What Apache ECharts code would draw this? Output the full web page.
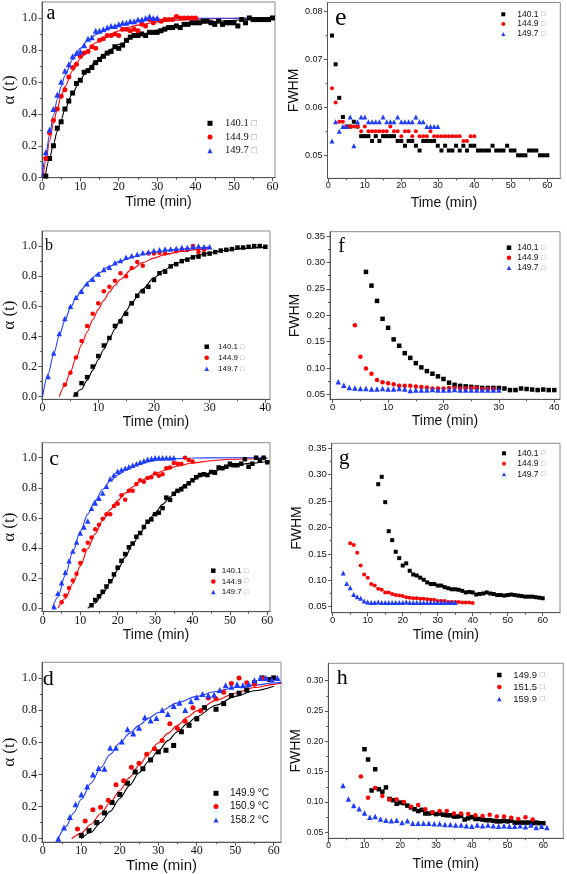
<!DOCTYPE html>
<html><head><meta charset="utf-8">
<script src="https://cdn.jsdelivr.net/npm/echarts@6/dist/echarts.min.js"></script>
<style>html,body{margin:0;padding:0;background:#fff}#c{width:567px;height:874px}</style>
</head><body><div id="c"></div>
<script>
function seq(a, b, s) { const r = []; for (let v = a; v <= b + 1e-9; v += s) r.push(+v.toFixed(2)); return r; }

// ---------- Panel a : α(t) ----------
const a_t140 = seq(1, 60, 1);
const a_y140 = [0.01,0.12,0.20,0.31,0.35,0.43,0.48,0.53,0.59,0.61, 0.66,0.67,0.69,0.72,0.74,0.76,0.78,0.79,0.82,0.81,
  0.83,0.86,0.88,0.89,0.89,0.90,0.89,0.91,0.91,0.91, 0.92,0.93,0.94,0.94,0.95,0.94,0.96,0.96,0.97,0.97,
  0.97,0.98,0.98,0.97,0.96,0.98,0.96,0.97,0.97,0.97, 0.95,0.99,0.97,1.0,0.99,0.99,0.99,0.99,0.99,1.0];
const a_t144 = seq(1, 40, 1);
const a_y144 = [0.12,0.28,0.36,0.43,0.51,0.55,0.63,0.69,0.71,0.76, 0.78,0.79,0.82,0.81,0.86,0.87,0.89,0.89,0.90,0.89,
  0.93,0.93,0.92,0.93,0.92,0.96,0.95,0.99,0.97,0.99, 0.98,0.99,0.99,0.99,1.01,1.0,1.0,1.0,1.0,1.0];
const a_t149 = seq(1, 30, 1);
const a_y149 = [0.16,0.30,0.43,0.52,0.60,0.67,0.71,0.76,0.78,0.79, 0.83,0.87,0.88,0.92,0.92,0.93,0.94,0.95,0.95,0.96,
  0.97,0.97,0.98,0.98,0.99,0.99,1.0,1.01,1.0,1.0];
const a_fit140 = [[0.8,0],[2,0.12],[3,0.21],[4,0.29],[5,0.36],[6,0.43],[8,0.53],[10,0.615],[12,0.68],[14,0.73],[16,0.77],[18,0.805],[20,0.835],[25,0.89],[30,0.925],[35,0.95],[40,0.965],[45,0.978],[50,0.986],[55,0.992],[60,0.996]];
const a_fit144 = [[0.3,0],[1,0.10],[2,0.23],[3,0.34],[4,0.43],[5,0.51],[6,0.57],[8,0.67],[10,0.745],[12,0.80],[14,0.845],[16,0.875],[18,0.90],[20,0.92],[25,0.955],[30,0.975],[35,0.986],[40,0.992],[50,0.998],[60,1.0]];
const a_fit149 = [[0,0],[1,0.14],[2,0.27],[3,0.39],[4,0.49],[5,0.57],[6,0.64],[8,0.74],[10,0.81],[12,0.86],[14,0.895],[16,0.92],[18,0.94],[20,0.955],[25,0.978],[30,0.99],[40,0.998],[60,1.0]];

// ---------- Panel e : FWHM ----------
const e_t140 = seq(1, 60, 1);
const e_y140 = [0.075,0.069,0.062,0.058,0.056,0.056,0.057,0.056,0.054,0.054, 0.054,0.053,0.054,0.053,0.054,0.054,0.054,0.054,0.053,0.053,
  0.052,0.053,0.053,0.052,0.051,0.053,0.053,0.053,0.053,0.052, 0.051,0.052,0.051,0.051,0.052,0.051,0.052,0.051,0.052,0.052,
  0.051,0.051,0.051,0.051,0.052,0.051,0.051,0.051,0.052,0.051, 0.051,0.050,0.050,0.050,0.051,0.051,0.051,0.050,0.050,0.050];
const e_t144 = seq(1, 40, 1);
const e_y144 = [0.064,0.061,0.057,0.057,0.056,0.056,0.056,0.056,0.055,0.056, 0.055,0.055,0.055,0.055,0.055,0.055,0.056,0.055,0.055,0.054,
  0.055,0.055,0.054,0.055,0.054,0.054,0.054,0.055,0.054,0.054, 0.054,0.054,0.054,0.054,0.054,0.054,0.053,0.053,0.054,0.054];
const e_t149 = seq(1, 30, 1);
const e_y149 = [0.053,0.057,0.055,0.056,0.056,0.058,0.052,0.057,0.058,0.058, 0.057,0.057,0.057,0.057,0.058,0.057,0.057,0.057,0.058,0.057,
  0.057,0.057,0.057,0.058,0.057,0.057,0.056,0.056,0.056,0.056];

// ---------- Panel b : α(t) ----------
const b_t140 = seq(6, 40, 1);
const b_y140 = [0.015,0.09,0.13,0.20,0.27,0.34,0.39,0.47,0.50,0.55, 0.62,0.67,0.70,0.73,0.775,0.82,0.83,0.865,0.88,0.90,
  0.91,0.925,0.93,0.945,0.95,0.96,0.97,0.975,0.98,0.99, 0.99,0.995,1.0,1.0,0.995];
const b_t144 = [4,5,6,7,8,9,10,11,12,13,14,15,16,17,18,19,20,21,22,24,25,26,27,28,29];
const b_y144 = [0.08,0.16,0.26,0.37,0.47,0.55,0.62,0.70,0.73,0.77,0.82,0.80,0.855,0.895,0.87,0.95,0.95,0.955,0.95,0.965,0.975,0.975,1.0,0.96,0.975];
const b_t149 = seq(1, 30, 1);
const b_y149 = [0.135,0.29,0.42,0.52,0.60,0.66,0.70,0.75,0.78,0.815, 0.845,0.86,0.89,0.905,0.925,0.935,0.945,0.955,0.96,0.97,
  0.975,0.98,0.98,0.985,0.99,0.99,0.995,1.0,0.995,0.995];
const b_fit140 = [[5.5,0],[7,0.05],[8,0.11],[9,0.175],[10,0.245],[11,0.315],[12,0.385],[13,0.45],[14,0.515],[15,0.57],[16,0.625],[18,0.715],[20,0.79],[22,0.845],[24,0.885],[26,0.915],[28,0.94],[30,0.955],[33,0.972],[36,0.985],[40,0.993]];
const b_fit144 = [[3,0],[4,0.075],[5,0.165],[6,0.255],[7,0.345],[8,0.43],[9,0.51],[10,0.58],[11,0.64],[12,0.695],[13,0.74],[14,0.78],[16,0.845],[18,0.89],[20,0.92],[22,0.945],[25,0.965],[28,0.978],[30,0.983]];
const b_fit149 = [[0,0],[1,0.15],[2,0.285],[3,0.405],[4,0.505],[5,0.59],[6,0.655],[7,0.71],[8,0.755],[9,0.79],[10,0.82],[12,0.865],[14,0.9],[16,0.925],[18,0.945],[20,0.96],[24,0.978],[27,0.987],[30,0.993]];

// ---------- Panel f : FWHM ----------
const f_t140 = seq(6, 40, 1);
const f_y140 = [0.282,0.256,0.227,0.193,0.176,0.154,0.142,0.128,0.119,0.109, 0.101,0.094,0.089,0.084,0.079,0.072,0.068,0.066,0.065,0.064,
  0.063,0.062,0.062,0.062,0.062,0.061,0.058,0.058,0.061,0.060, 0.059,0.058,0.059,0.058,0.058];
const f_t144 = seq(4, 29, 1);
const f_y144 = [0.181,0.121,0.099,0.089,0.077,0.073,0.071,0.069,0.066,0.066, 0.066,0.065,0.064,0.063,0.061,0.061,0.061,0.062,0.062,0.061,
  0.061,0.062,0.062,0.060,0.060,0.060];
const f_t149 = seq(1, 30, 1);
const f_y149 = [0.074,0.067,0.063,0.062,0.061,0.061,0.060,0.060,0.061,0.060, 0.060,0.061,0.060,0.057,0.058,0.058,0.058,0.059,0.058,0.058,
  0.058,0.059,0.058,0.058,0.058,0.058,0.058,0.058,0.058,0.058];

// ---------- Panel c : α(t) ----------
const c_t140 = seq(13, 60, 1);
const c_y140 = [0.02,0.055,0.08,0.11,0.145,0.18,0.225,0.27,0.315,0.36, 0.405,0.43,0.475,0.50,0.54,0.575,0.59,0.625,0.635,0.665,
  0.735,0.72,0.76,0.78,0.79,0.81,0.83,0.85,0.87,0.885, 0.89,0.885,0.905,0.90,0.935,0.93,0.94,0.96,0.95,0.95,
  0.96,0.99,0.94,0.96,1.0,0.98,1.0,0.97];
const c_t144 = seq(5, 40, 1);
const c_y144 = [0.04,0.085,0.135,0.185,0.23,0.30,0.385,0.435,0.47,0.525, 0.555,0.595,0.625,0.625,0.68,0.695,0.75,0.72,0.78,0.78,
  0.825,0.85,0.84,0.865,0.87,0.895,0.88,0.89,0.93,0.935, 0.965,0.96,0.96,1.0,0.985,0.975];
const c_t149 = seq(3, 35, 1);
const c_y149 = [0.01,0.10,0.17,0.24,0.315,0.38,0.44,0.50,0.54,0.58, 0.665,0.70,0.73,0.765,0.81,0.86,0.885,0.91,0.92,0.93,
  0.94,0.95,0.96,0.97,0.98,0.99,0.995,1.0,1.0,1.0, 1.0,1.0,1.0];
const c_fit140 = [[12,0],[14,0.035],[16,0.095],[18,0.17],[20,0.255],[22,0.34],[24,0.425],[26,0.50],[28,0.57],[30,0.635],[32,0.69],[34,0.74],[36,0.785],[38,0.82],[40,0.85],[43,0.885],[46,0.915],[50,0.94],[55,0.962],[60,0.975]];
const c_fit144 = [[4,0],[6,0.065],[8,0.165],[10,0.28],[12,0.395],[14,0.495],[16,0.585],[18,0.655],[20,0.715],[22,0.765],[24,0.805],[26,0.84],[28,0.87],[30,0.895],[33,0.92],[36,0.945],[40,0.965],[45,0.98],[50,0.99],[60,0.995]];
const c_fit149 = [[2.5,0],[4,0.075],[6,0.22],[8,0.375],[10,0.51],[12,0.625],[14,0.715],[16,0.79],[18,0.845],[20,0.885],[22,0.915],[25,0.95],[28,0.972],[31,0.985],[35,0.993],[40,0.998],[50,1.0],[60,1.0]];

// ---------- Panel g : FWHM ----------
const g_t140 = seq(13, 60, 1);
const g_y140 = [0.282,0.296,0.248,0.193,0.176,0.154,0.142,0.128,0.132,0.118, 0.111,0.109,0.105,0.101,0.096,0.093,0.093,0.090,0.090,0.087,
  0.085,0.083,0.083,0.082,0.080,0.077,0.078,0.077,0.073,0.074, 0.075,0.077,0.075,0.074,0.072,0.072,0.071,0.072,0.073,0.072,
  0.071,0.070,0.069,0.069,0.069,0.068,0.067,0.066];
const g_t144 = seq(5, 40, 1);
const g_y144 = [0.170,0.167,0.152,0.128,0.111,0.105,0.093,0.090,0.084,0.082, 0.077,0.077,0.074,0.072,0.071,0.070,0.068,0.067,0.066,0.066,
  0.065,0.065,0.064,0.063,0.063,0.061,0.061,0.061,0.059,0.059, 0.059,0.059,0.058,0.058,0.058,0.057];
const g_t149 = seq(3, 35, 1);
const g_y149 = [0.114,0.094,0.086,0.073,0.069,0.066,0.061,0.059,0.058,0.058, 0.059,0.058,0.058,0.058,0.058,0.058,0.058,0.058,0.059,0.058,
  0.058,0.058,0.058,0.058,0.058,0.058,0.058,0.058,0.058,0.058, 0.058,0.058,0.058];

// ---------- Panel d : α(t) ----------
const d_t149 = [10,12,14,16,18,20,22,24,26,28,30,32,34,36,38,40,42,45,47,49,51,53,55,57,59,60];
const d_y149 = [0.02,0.05,0.10,0.16,0.225,0.275,0.345,0.415,0.435,0.49,0.54,0.55,0.58,0.665,0.705,0.745,0.815,0.805,0.84,0.89,0.905,0.925,0.97,1.0,0.99,1.0];
const d_t150 = [9,11,13,15,17,19,21,23,25,27,29,31,33,35,37,39,41,43,45,47,49,51,53,55,57];
const d_y150 = [0.06,0.11,0.18,0.195,0.24,0.335,0.36,0.445,0.47,0.525,0.56,0.61,0.715,0.685,0.73,0.815,0.795,0.875,0.87,0.91,0.965,1.0,0.97,0.96,0.995];
const d_t158 = [4,5.5,7,8.5,10,11.5,13,14.5,16,17.5,19,20.5,22,23.5,25,26.5,28,29.5,31,32.5,34,35.5,37,38.5,40,41.5,43,44.5,46,47.5,49,50.5,52,53.5,55,56.5,58,59.5,61];
const d_y158 = [0.0,0.07,0.135,0.215,0.275,0.325,0.40,0.44,0.435,0.565, 0.565,0.605,0.68,0.655,0.69,0.755,0.735,0.75,0.80,0.775,
  0.825,0.845,0.80,0.855,0.88,0.90,0.89,0.895,0.925,0.955, 0.945,0.96,0.955,0.96,0.985,1.0,1.0,0.99,1.0];
const d_fit149 = [[10,0],[12.5,0.04],[15,0.10],[17.5,0.17],[20,0.25],[22.5,0.33],[25,0.41],[27.5,0.48],[30,0.545],[32.5,0.61],[35,0.665],[37.5,0.715],[40,0.76],[45,0.83],[50,0.885],[55,0.92],[60,0.948]];
const d_fit150 = [[7.5,0],[10,0.035],[12.5,0.09],[15,0.155],[17.5,0.225],[20,0.30],[22.5,0.38],[25,0.455],[27.5,0.53],[30,0.595],[32.5,0.655],[35,0.705],[37.5,0.755],[40,0.795],[45,0.86],[50,0.905],[55,0.94],[60,0.96],[62,0.967]];
const d_fit158 = [[4,0],[6,0.075],[8,0.16],[10,0.245],[12.5,0.345],[15,0.44],[17.5,0.525],[20,0.595],[22.5,0.655],[25,0.705],[27.5,0.75],[30,0.785],[35,0.845],[40,0.885],[45,0.915],[50,0.94],[55,0.955],[60,0.968],[62,0.972]];

// ---------- Panel h : FWHM ----------
const h_t149 = seq(10, 60, 1);
const h_y149 = [0.187,0.170,0.119,0.154,0.121,0.117,0.124,0.105,0.103,0.097, 0.099,0.098,0.094,0.091,0.088,0.085,0.087,0.081,0.081,0.082,
  0.080,0.081,0.079,0.078,0.078,0.076,0.076,0.077,0.071,0.073, 0.075,0.072,0.072,0.071,0.070,0.070,0.069,0.068,0.068,0.069,
  0.068,0.069,0.066,0.066,0.066,0.066,0.066,0.065,0.066,0.065,0.065];
const h_t151 = seq(9, 57, 2);
const h_y151 = [0.142,0.107,0.123,0.110,0.104,0.104,0.100,0.092,0.095,0.088,0.083,0.085,0.085,0.081,0.081,0.080,0.078,0.077,0.079,0.076,0.076,0.074,0.072,0.075,0.071];
const h_t159 = seq(4, 61, 1.5);
const h_y159 = [0.127,0.105,0.094,0.089,0.082,0.075,0.076,0.072,0.070,0.069, 0.070,0.066,0.069,0.065,0.065,0.065,0.065,0.064,0.064,0.063,
  0.063,0.062,0.062,0.061,0.060,0.062,0.061,0.062,0.061,0.060, 0.061,0.060,0.060,0.061,0.059,0.062,0.058,0.060,0.058];

// ---------- tick labels ----------
const X60 = [0,10,20,30,40,50,60], X60m = [5,15,25,35,45,55];
const X40 = [0,10,20,30,40], X40m = [5,15,25,35];
const YA = [0,0.2,0.4,0.6,0.8,1.0], YAm = [0.1,0.3,0.5,0.7,0.9];
const YE = [0.05,0.06,0.07,0.08], YEm = [0.055,0.065,0.075];
const YF = [0.05,0.10,0.15,0.20,0.25,0.30,0.35], YFm = [0.075,0.125,0.175,0.225,0.275,0.325];
const YH = [0.05,0.10,0.15,0.20,0.25,0.30], YHm = [0.075,0.125,0.175,0.225,0.275];

const N1 = ['140.1 □','144.9 □','149.7 □'];
const ND = ['149.9 °C','150.9 °C','158.2 °C'];
const NH = ['149.9 □','151.5 □','159.9 □'];

// ---------- styling ----------
const COL = ['#000000','#ff0000','#1e3cff'];
const SYM = ['rect','circle','triangle'];
const SERIF = '"Liberation Serif","Times New Roman",serif';
const SANS = '"Liberation Sans",Arial,sans-serif';
const AX = '#555', BORDER = '#8a8a8a', TXT = '#111';

// legend: mc = marker centre x, tx = text start x, r1 = first row centre y, pitch = row pitch
const panels = [
 {L:'a', box:[37,2,238,175.7], xr:[0,60.67], yr:[0,1.1], xt:X60, xm:X60m, yt:YA, ym:YAm, yd:1,
  tf:SERIF, ts:12, xg:17, xns:14, yn:'α (t)', ynf:SERIF, yns:17, yg:16.5, lx:46.5, ly:14, lfs:20, sym:5,
  leg:{mc:210, tx:225, r1:123.3, pitch:13.7, s:5, fs:10.5, lh:11, ff:SERIF}, names:N1,
  pts:[[a_t140,a_y140],[a_t144,a_y144],[a_t149,a_y149]], fits:[a_fit140,a_fit144,a_fit149]},
 {L:'e', box:[327.5,2.5,232.8,175.8], xr:[-0.22,63.56], yr:[0.0452,0.0819], xt:X60, xm:X60m, yt:YE, ym:YEm, yd:2,
  tf:SANS, ts:9, xg:17.5, xns:14, yn:'FWHM', ynf:SANS, yns:14, yg:26.5, lx:335, ly:17.9, lfs:26, sym:4,
  leg:{mc:503.3, tx:517.3, r1:14.3, pitch:9.8, s:4, fs:8.5, lh:9, ff:SANS}, names:N1,
  pts:[[e_t140,e_y140],[e_t144,e_y144],[e_t149,e_y149]], fits:[]},
 {L:'b', box:[40,231,230,168.3], xr:[-0.12,40.84], yr:[-0.017,1.1], xt:X40, xm:X40m, yt:YA, ym:YAm, yd:1,
  tf:SERIF, ts:12, xg:15, xns:14, yn:'α (t)', ynf:SERIF, yns:17, yg:19, lx:45, ly:245.9, lfs:16, sym:4.5,
  leg:{mc:206.7, tx:218, r1:346.7, pitch:11, s:4.5, fs:8, lh:9, ff:SANS}, names:N1,
  pts:[[b_t140,b_y140],[b_t144,b_y144],[b_t149,b_y149]], fits:[b_fit140,b_fit144,b_fit149]},
 {L:'f', box:[330,231.7,230,167.6], xr:[-0.49,41.03], yr:[0.0405,0.3582], xt:X40, xm:X40m, yt:YF, ym:YFm, yd:2,
  tf:SANS, ts:9.5, xg:15, xns:14, yn:'FWHM', ynf:SANS, yns:14, yg:22.7, lx:338.3, ly:246.6, lfs:20, sym:4.5,
  leg:{mc:509, tx:517.3, r1:247.7, pitch:10, s:4.5, fs:8.5, lh:9, ff:SANS}, names:N1,
  pts:[[f_t140,f_y140],[f_t144,f_y144],[f_t149,f_y149]], fits:[]},
 {L:'c', box:[39.3,442.7,230.7,169], xr:[-0.26,60.72], yr:[-0.0226,1.0996], xt:X60, xm:X60m, yt:YA, ym:YAm, yd:1,
  tf:SERIF, ts:12, xg:16.5, xns:14, yn:'α (t)', ynf:SERIF, yns:17, yg:16.8, lx:49.3, ly:459.3, lfs:22, sym:4.5,
  leg:{mc:213.3, tx:221.7, r1:570.7, pitch:10.7, s:4.5, fs:8, lh:9, ff:SANS}, names:N1,
  pts:[[c_t140,c_y140],[c_t144,c_y144],[c_t149,c_y149]], fits:[c_fit140,c_fit144,c_fit149]},
 {L:'g', box:[331.7,443.3,228.3,169.4], xr:[-0.29,64.94], yr:[0.0386,0.3595], xt:X60, xm:X60m, yt:YF, ym:YFm, yd:2,
  tf:SANS, ts:9.5, xg:15.5, xns:14, yn:'FWHM', ynf:SANS, yns:14, yg:24.7, lx:339, ly:458.9, lfs:21, sym:4,
  leg:{mc:504, tx:517.3, r1:453.3, pitch:10.5, s:4, fs:8.5, lh:9, ff:SANS}, names:N1,
  pts:[[g_t140,g_y140],[g_t144,g_y144],[g_t149,g_y149]], fits:[]},
 {L:'d', box:[32.7,662.3,248.3,180.4], xr:[-0.25,61.9], yr:[-0.021,1.097], xt:X60, xm:X60m, yt:YA, ym:YAm, yd:1,
  tf:SERIF, ts:12, xg:14.5, xns:15, yn:'α (t)', ynf:SERIF, yns:17, yg:13.7, lx:42.7, ly:679.3, lfs:22, sym:5,
  leg:{mc:216, tx:230, r1:793.3, pitch:13.3, s:5, fs:10, lh:11, ff:SANS}, names:ND,
  pts:[[d_t149,d_y149],[d_t150,d_y150],[d_t158,d_y158]], fits:[d_fit149,d_fit150,d_fit158]},
 {L:'h', box:[328.3,663.3,235,175], xr:[-0.11,65.57], yr:[0.0401,0.3287], xt:X60, xm:X60m, yt:YH, ym:YHm, yd:2,
  tf:SANS, ts:8.5, xg:18.5, xns:14, yn:'FWHM', ynf:SANS, yns:14, yg:24.6, lx:336.7, ly:678.6, lfs:22, sym:4.5,
  leg:{mc:499.3, tx:513.3, r1:675, pitch:12, s:4.5, fs:9.5, lh:10, ff:SANS}, names:NH,
  pts:[[h_t149,h_y149],[h_t151,h_y151],[h_t159,h_y159]], fits:[]}
];

const grid = [], xAxis = [], yAxis = [], series = [], legend = [], graphic = [];
panels.forEach((p, i) => {
  grid.push({left:p.box[0], top:p.box[1], width:p.box[2], height:p.box[3], show:true,
    borderColor:BORDER, borderWidth:1, backgroundColor:'transparent', containLabel:false});
  const xi = 2*i, yi = 2*i;
  xAxis.push({gridIndex:i, type:'value', position:'bottom', min:p.xr[0], max:p.xr[1],
    axisLine:{show:true, onZero:false, lineStyle:{color:AX, width:1}},
    axisTick:{show:true, inside:false, length:3.5, customValues:p.xt, lineStyle:{color:AX, width:1}},
    axisLabel:{show:true, customValues:p.xt, margin:3, fontFamily:p.tf, fontSize:p.ts, color:TXT,
      formatter:v => String(Math.round(v))},
    splitLine:{show:false},
    name:'Time (min)', nameLocation:'middle', nameGap:p.xg,
    nameTextStyle:{fontFamily:SANS, fontSize:p.xns, color:TXT}});
  xAxis.push({gridIndex:i, type:'value', position:'bottom', min:p.xr[0], max:p.xr[1],
    axisLine:{show:false, onZero:false},
    axisTick:{show:true, inside:false, length:2, customValues:p.xm, lineStyle:{color:AX, width:1}},
    axisLabel:{show:false}, splitLine:{show:false}});
  yAxis.push({gridIndex:i, type:'value', position:'left', min:p.yr[0], max:p.yr[1],
    axisLine:{show:true, onZero:false, lineStyle:{color:AX, width:1}},
    axisTick:{show:true, inside:false, length:3.5, customValues:p.yt, lineStyle:{color:AX, width:1}},
    axisLabel:{show:true, customValues:p.yt, margin:5, fontFamily:p.tf, fontSize:p.ts, color:TXT,
      formatter:v => v.toFixed(p.yd)},
    splitLine:{show:false},
    name:p.yn, nameLocation:'middle', nameGap:p.yg,
    nameTextStyle:{fontFamily:p.ynf, fontSize:p.yns, color:TXT}});
  yAxis.push({gridIndex:i, type:'value', position:'left', min:p.yr[0], max:p.yr[1],
    axisLine:{show:false, onZero:false},
    axisTick:{show:true, inside:false, length:2, customValues:p.ym, lineStyle:{color:AX, width:1}},
    axisLabel:{show:false}, splitLine:{show:false}});

  p.fits.forEach((f, k) => {
    series.push({type:'line', name:'fit-' + p.L + k, xAxisIndex:xi, yAxisIndex:yi, data:f,
      smooth:0.3, smoothMonotone:'x', showSymbol:false, symbol:'none', silent:true, z:2,
      lineStyle:{color:COL[k], width:1.1}, itemStyle:{color:COL[k]}});
  });
  p.pts.forEach((s, k) => {
    series.push({type:'scatter', name:p.names[k], xAxisIndex:xi, yAxisIndex:yi,
      data:s[0].map((t, j) => [t, s[1][j]]),
      symbol:SYM[k], symbolSize:k === 2 ? p.sym + 1 : p.sym, z:3, silent:true,
      itemStyle:{color:COL[k], opacity:1}});
  });

  const lg = p.leg;
  const pad = Math.max(0, (lg.tx - lg.mc) - lg.s / 2 - 5);
  legend.push({data:p.names.map((n, k) => ({name:n, icon:SYM[k]})), orient:'vertical',
    left:lg.mc - lg.s / 2, top:lg.r1 - lg.lh / 2, itemWidth:lg.s, itemHeight:lg.s, itemGap:lg.pitch - lg.lh,
    padding:0, selectedMode:false, backgroundColor:'transparent',
    formatter:n => n.replace('□', '{t|□}'),
    textStyle:{fontFamily:lg.ff, fontSize:lg.fs, lineHeight:lg.lh, color:TXT, padding:[0, 0, 0, pad],
      rich:{t:{fontFamily:SANS, fontSize:lg.fs * 0.9, color:'#999', lineHeight:lg.lh}}}});

  graphic.push({type:'text', x:p.lx, y:p.ly, silent:true,
    style:{text:p.L, fontFamily:SERIF, fontSize:p.lfs, fill:'#000', verticalAlign:'middle', align:'left'}});
});

const chart = echarts.init(document.getElementById('c'), null, {renderer:'canvas'});
chart.setOption({animation:false, backgroundColor:'#fff', grid, xAxis, yAxis, series, legend, graphic});
</script></body></html>
